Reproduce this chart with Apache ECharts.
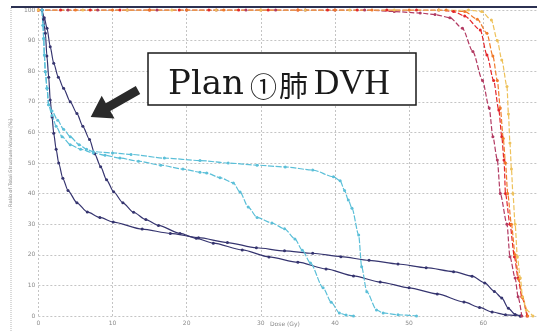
<!DOCTYPE html>
<html>
<head>
<meta charset="utf-8">
<script src="https://cdn.jsdelivr.net/npm/echarts@6/dist/echarts.min.js"></script>
<style>
  html, body { margin: 0; padding: 0; background: #fff; }
  #chart { width: 537px; height: 332px; }
</style>
</head>
<body>
<div id="chart"></div>
<script>
// Dose axis range (Gy) and volume axis range (%)
const doseRange = [0, 67.25];
const volumeRange = [0, 100];

// DVH curves: [dose (Gy), volume (%)]
const lungA = [[0.5,100],[0.7,97],[0.95,92.4],[1.15,85],[1.4,78],[1.6,70.6],[1.85,65],[2.07,59.7],[2.4,54.5],[2.74,50],[3.3,45],[4.0,41],[5.2,37],[6.6,34],[8.3,32.2],[10.1,30.7],[14,28.4],[17.8,27],[21.6,25.6],[25.5,24],[29.4,22.3],[33.2,21.3],[37,20.5],[40.8,19.4],[44.6,18.2],[48.5,17],[52.3,15.8],[56,14.5],[58.5,13],[60.2,10.8],[61.5,8],[62.5,5.9],[63.4,2.5],[64.3,0.5],[65,0]];
const lungB = [[0.5,100],[0.8,97.5],[1.17,94],[1.6,88],[2.07,82.6],[2.7,78],[3.4,74.4],[4.3,70],[5.2,66.2],[6.0,62],[6.9,57.7],[7.6,53],[8.4,48.8],[9.2,44.5],[10.15,40.6],[11.4,37],[12.85,33.9],[14.5,31.5],[16.2,29.6],[19.1,27],[21.3,25.4],[23.6,23.8],[27.5,21.6],[31.1,19.3],[35,17.6],[38.8,15.4],[42.5,13.1],[46.1,11.1],[50,9.2],[53.8,7.2],[57.4,4.6],[59.5,2.8],[61.2,1.3],[63,0.4],[65,0]];
const lungC = [[0.5,100],[0.63,95],[0.72,90.7],[0.81,85.3],[0.94,79.8],[1.17,74.4],[1.39,69],[1.84,67],[2.6,64],[3.4,61],[4.3,58.6],[5.5,56],[6.5,54.5],[7.4,53.7],[10,53.3],[12.5,52.8],[17,51.6],[21.8,50.8],[25.6,50],[29.5,49.3],[33.3,48.7],[37,47.7],[39.8,45.5],[40.7,44.2],[41.3,41],[41.8,37.9],[42.3,35.2],[43.2,26.5],[43.6,16.1],[44.3,7.9],[45.6,2],[46.5,1],[48.5,0.4],[51,0]];
const lungD = [[0.5,100],[0.63,95],[0.72,90.7],[0.81,85.3],[0.94,79.8],[1.17,74.4],[1.39,69],[1.84,65.5],[2.4,62],[3.2,58.6],[4.3,56],[5.7,54.5],[7.4,53.3],[9,52.5],[11,51.6],[13.5,50.6],[16.5,49.3],[19.5,48],[21.8,47],[22.7,46.7],[24.5,45.2],[26.3,43.5],[27.2,40.5],[28.3,35.6],[29.5,32.2],[31.5,30.4],[33.2,28.5],[34.6,25.2],[35.6,21.5],[36.7,17.3],[38.4,9.2],[39.5,4.5],[40.6,1],[41.5,0.3],[42.5,0]];
const targetA = [[0,100],[4,100],[8,100],[12,100],[16,100],[20,100],[24,100],[28,100],[32,100],[36,100],[40,100],[44,100],[48,99.5],[51.5,99],[53.5,98.5],[55.5,97.5],[57.2,94],[58.6,86.4],[59.9,77],[60.8,68],[61.3,58.6],[61.9,51],[62.3,40],[63.2,30],[63.6,19.4],[64.3,12.4],[64.7,6.3],[65.2,0]];
const targetB = [[0,100],[3,100],[7,100],[11,100],[15,100],[19,100],[23,100],[27,100],[31,100],[35,100],[39,100],[43,100],[47,100],[51,100],[54,100],[56,99.5],[57.5,98],[59.6,93.5],[60.5,85.3],[61.4,77],[62.1,67.3],[62.5,58.6],[62.8,51],[63.0,40],[63.6,30],[64.2,19.4],[64.7,12.4],[65.2,6.3],[65.9,0]];
const targetC = [[0,100],[5,100],[10,100],[15,100],[20,100],[25,100],[30,100],[35,100],[40,100],[45,100],[50,100],[55,100],[57.5,99.5],[59.2,97],[60.5,92.4],[61.3,85],[61.9,77],[62.3,68],[62.7,58],[63.0,50],[63.3,40],[63.8,30],[64.3,20],[64.8,12],[65.3,6],[66,0]];
const targetD = [[0,100],[6,100],[12,100],[18,100],[24,100],[30,100],[36,100],[42,100],[48,100],[54,100],[58,100],[59.8,99.5],[61.1,96.7],[61.9,90],[62.5,83.7],[63.2,75],[63.4,66],[63.6,56.5],[63.8,48],[64.0,40],[64.3,30],[64.6,19.4],[65.0,12.4],[65.3,6.3],[65.8,2],[66.7,0]];

const curves = [
  { data: lungA, color: '#35346f', dash: 'solid' },
  { data: lungB, color: '#35346f', dash: 'solid' },
  { data: lungC, color: '#5bbfd8', dash: [6, 1.5] },
  { data: lungD, color: '#5bbfd8', dash: [6, 1.5] },
  { data: targetA, color: '#b23a62', dash: [5, 2] },
  { data: targetB, color: '#e3262b', dash: [5, 2] },
  { data: targetC, color: '#f07a2a', dash: [5, 2] },
  { data: targetD, color: '#eec15a', dash: [5, 2] }
];

const chart = echarts.init(document.getElementById('chart'), null, { renderer: 'canvas' });

const gridStyle = { type: [2, 2], color: '#c4c4c4', width: 1 };

chart.setOption({
  animation: false,
  backgroundColor: '#fff',
  grid: { left: 38, right: 0, top: 10, bottom: 16 },
  xAxis: {
    type: 'value',
    min: doseRange[0],
    max: doseRange[1],
    interval: 10,
    axisLine: { show: false },
    axisTick: { show: false },
    axisLabel: { fontSize: 6, color: '#8a8a8a', margin: 4, fontFamily: 'DejaVu Sans', showMaxLabel: false },
    splitLine: { show: true, lineStyle: gridStyle }
  },
  yAxis: {
    type: 'value',
    min: volumeRange[0],
    max: volumeRange[1],
    interval: 10,
    name: 'Ratio of Total Structure Volume [%]',
    nameLocation: 'middle',
    nameRotate: 90,
    nameGap: 14,
    nameTextStyle: { fontSize: 5, color: '#9a9a9a', fontFamily: 'DejaVu Sans' },
    axisLine: { show: false },
    axisTick: { show: false },
    axisLabel: { fontSize: 6, color: '#8a8a8a', margin: 3, fontFamily: 'DejaVu Sans' },
    splitLine: { show: true, lineStyle: gridStyle }
  },
  series: curves.map(c => ({
    type: 'line',
    data: c.data,
    smooth: 0.25,
    smoothMonotone: 'x',
    symbol: 'circle',
    symbolSize: 3,
    showAllSymbol: true,
    itemStyle: { color: c.color },
    lineStyle: { color: c.color, width: 1.2, type: c.dash }
  })),
  graphic: [
    // outer frame lines of the figure
    { type: 'line', shape: { x1: 11, y1: 7, x2: 537, y2: 7 }, style: { stroke: '#2c3152', lineWidth: 2 }, z: 10 },
    { type: 'line', shape: { x1: 11, y1: 8, x2: 11, y2: 332 }, style: { stroke: '#b5b5b5', lineWidth: 1, lineDash: [1, 1] }, z: 10 },
    // x axis title
    { type: 'text', left: 270, top: 321, style: { text: 'Dose (Gy)', fontSize: 6, fill: '#8a8a8a', fontFamily: 'DejaVu Sans' }, z: 10 },
    // callout box
    { type: 'rect', shape: { x: 148, y: 53, width: 268, height: 52 }, style: { fill: '#fff', stroke: '#1a1a1a', lineWidth: 1.5 }, z: 20 },
    { type: 'text', x: 168, y: 102, style: { text: 'Plan', fontSize: 34, fill: '#1a1a1a', fontFamily: 'DejaVu Serif', verticalAlign: 'bottom' }, z: 21 },
    { type: 'text', x: 250, y: 100, style: { text: '①', fontSize: 27, fill: '#1a1a1a', fontFamily: 'Noto Sans CJK JP', verticalAlign: 'bottom' }, z: 21 },
    { type: 'text', x: 279, y: 100, style: { text: '肺', fontSize: 29, fill: '#1a1a1a', fontFamily: 'Noto Sans CJK JP', verticalAlign: 'bottom' }, z: 21 },
    { type: 'text', x: 314, y: 102, style: { text: 'DVH', fontSize: 35, fill: '#1a1a1a', fontFamily: 'Liberation Serif', verticalAlign: 'bottom' }, z: 21 },
    // pointer arrow
    { type: 'polygon', shape: { points: [[135.8,86.1],[105.9,103.2],[101.7,95.8],[90.7,117],[114.5,118.4],[110.3,111.0],[140.2,93.9]] }, style: { fill: '#2a2a2a' }, z: 20 }
  ]
});
</script>
</body>
</html>
